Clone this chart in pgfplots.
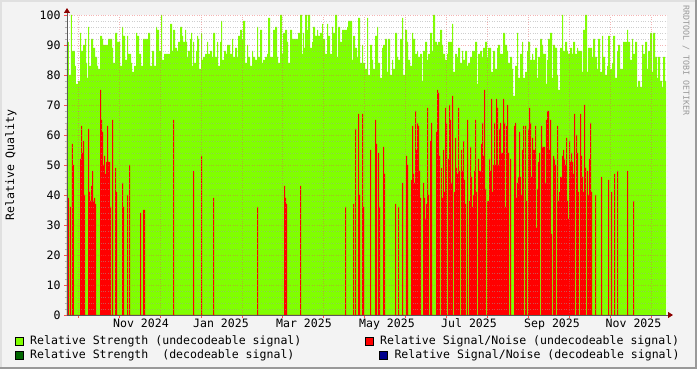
\documentclass[border=0pt]{standalone}
\usepackage{fontspec}
\setmainfont{DejaVu Sans Mono}
\usepackage{pgfplots}
\pgfplotsset{compat=1.18}
\usetikzlibrary{arrows.meta}
\definecolor{bgc}{RGB}{243,243,243}
\definecolor{limeg}{RGB}{128,255,0}
\definecolor{redc}{RGB}{255,0,0}
\definecolor{dkg}{RGB}{0,102,0}
\definecolor{navyc}{RGB}{0,0,139}
\definecolor{mgrid}{RGB}{230,90,90}
\definecolor{ngrid}{RGB}{160,160,160}
\newcommand{\lf}{\fontsize{11.55}{13}\selectfont}
\begin{document}
\begin{tikzpicture}[x=1pt,y=1pt]
\fill[bgc] (0,0) rectangle (697,369);
\useasboundingbox (0,0) rectangle (697,369);
\fill[white] (67,54) rectangle (667,354);
\fill[black!40] (0,0) rectangle (697,2);
\fill[black!40] (695,0) rectangle (697,369);
\fill[black!12] (0,367) rectangle (695,369);
\fill[black!12] (0,2) rectangle (2,369);
\begin{axis}[
  at={(67pt,54pt)}, anchor=south west,
  scale only axis, width=600pt, height=300pt,
  xmin=67, xmax=667, ymin=0, ymax=100,
  axis lines=left,
  axis on top,
  x axis line style={draw=black!65, line width=0.8pt, shorten >=-6pt, -{Triangle[length=5pt,width=6pt,color=red!55!black]}},
  y axis line style={draw=black!65, line width=0.8pt, shorten >=-7pt, -{Triangle[length=5pt,width=6pt,color=red!55!black]}},
  xtick={78.3,119.5,160.5,201,242,282,323,364,405,446,487.5,528.5,569.5,610.5,651.5},
  xticklabels={},
  minor x tick num=3,
  extra x ticks={141,221,304,387,469,552,633.5},
  extra x tick labels={Nov 2024,Jan 2025,Mar 2025,May 2025,Jul 2025,Sep 2025,Nov 2025},
  extra x tick style={grid=none, minor x tick num=0, major tick length=0pt},
  ytick={0,10,...,100}, minor y tick num=4,
  grid=both,
  major grid style={draw=mgrid, draw opacity=0.45, dotted, line width=0.5pt},
  minor grid style={draw=ngrid, draw opacity=0.5, dotted, line width=0.45pt},
  tick align=outside,
  major tick length=3pt, minor tick length=2pt,
  major tick style={draw=red!70, line width=0.6pt},
  minor tick style={draw=gray!60, line width=0.5pt},
  tick label style={font=\lf, /pgf/number format/assume math mode=true},
  ylabel={Relative Quality},
  ylabel style={font=\lf, at={(axis description cs:-0.0933,0.5)}, anchor=center},
]
\addplot[const plot mark left, fill=limeg, draw=none] coordinates {
(67,91)(69,80)(71,100)(72,88)(75,83)(76,77)(78,78)(80,94)(81,88)(83,90)(85,92)(86,84)(87,79)(88,96)(89,83)(91,92)(93,89)(95,86)(97,83)(98,82)(100,93)(102,92)(103,90)(108,92)(112,89)(113,84)(115,94)(117,91)(120,83)(122,96)(123,93)(125,85)(127,93)(128,87)(131,84)(132,81)(134,83)(136,94)(137,93)(139,87)(141,83)(143,92)(148,94)(150,83)(152,88)(154,83)(156,96)(157,95)(159,88)(161,100)(162,85)(164,87)(170,97)(172,88)(173,95)(175,89)(177,88)(178,91)
(180,96)(182,93)(183,91)(185,95)(186,91)(187,86)(188,88)(190,92)(191,94)(192,83)(193,91)(194,84)(196,88)(197,93)(198,92)(199,82)(201,94)(202,85)(203,86)(205,87)(207,91)(208,87)(210,88)(212,86)(213,94)(215,86)(217,91)(218,83)(220,91)(221,98)(222,85)(224,88)(226,87)(227,90)(230,87)(232,92)(233,86)(235,89)(237,86)(238,93)(240,95)(242,92)(243,98)(245,84)(247,90)(248,86)(250,83)(252,88)(253,86)(255,85)(257,96)(258,86)(260,95)(262,84)(263,85)(265,86)(267,87)(268,99)(270,86)(273,95)(275,96)(277,86)(278,84)(280,100)(282,87)(283,94)(285,95)(287,91)(288,84)(290,95)(292,92)(298,94)
(300,100)(302,87)(303,94)(304,89)(305,100)(307,95)(308,100)(310,89)(312,91)(313,96)(315,93)(317,95)(318,93)(320,94)(322,97)(323,92)(325,87)(327,97)(328,93)(330,87)(332,96)(333,94)(335,100)(337,86)(338,96)(340,91)(342,95)(347,96)(348,98)(350,98)(352,85)(353,93)(355,89)(357,86)(358,99)(360,84)(362,90)(363,84)(365,82)(367,99)(368,80)(370,90)(372,85)(373,82)(375,93)(377,96)(378,84)(380,79)(382,89)(383,90)(385,92)(387,81)(388,92)(390,80)(392,85)(393,82)(395,94)(397,86)(398,85)(400,92)(402,99)(403,80)(405,95)(407,91)(408,85)(410,83)(412,94)(413,92)(415,87)(417,88)(418,86)
(420,87)(422,78)(423,88)(425,91)(427,85)(428,87)(430,94)(432,88)(433,100)(435,91)(437,90)(438,91)(440,95)(442,90)(443,87)(445,85)(447,87)(448,91)(450,91)(452,97)(453,81)(455,87)(457,86)(458,89)(460,84)(462,88)(463,85)(465,88)(467,83)(468,84)(470,86)(472,88)(475,91)(477,77)(478,87)(480,88)(482,86)(483,89)(485,91)(487,86)(488,89)(491,81)(493,88)(495,82)(497,89)(498,90)(500,87)(503,94)(505,90)(507,88)(508,84)(510,86)(512,82)(513,73)(515,83)(517,94)(518,79)(520,87)(522,91)(523,79)(525,81)(527,88)(528,91)(530,85)(532,87)(533,85)(535,89)(537,79)(538,86)(540,92)(542,90)(543,87)
(545,87)(546,77)(547,85)(548,92)(550,94)(552,79)(553,90)(555,89)(557,80)(558,75)(560,89)(562,100)(563,88)(565,91)(567,88)(568,87)(570,89)(572,87)(573,91)(575,87)(577,89)(578,88)(582,81)(583,95)(585,100)(587,81)(588,89)(592,86)(593,92)(595,86)(597,82)(598,92)(600,81)(602,93)(603,86)(605,80)(607,83)(608,93)(610,82)(612,84)(613,93)(615,79)(617,88)(618,90)(620,82)(623,91)(627,95)(628,91)(630,85)(632,92)(633,87)(635,91)(637,76)(638,78)(640,76)(642,90)(643,87)(645,91)(647,82)(648,88)(650,94)(652,81)(653,94)(655,86)(657,79)(658,86)(660,78)(662,76)(663,86)(665,78)(666,78)
} \closedcycle;
\addplot[const plot mark left, fill=redc, draw=none] coordinates {
(67,64)(68,39)(69,0)(70,36)(71,0)(72,57)(73,50)(74,0)(80,52)(81,63)(82,54)(83,58)(84,40)(85,0)(88,62)(89,41)(90,38)(91,43)(92,48)(93,38)(94,39)(95,37)(96,0)(100,75)(101,65)(102,61)(103,50)(104,53)(105,47)(106,51)(107,63)(108,51)(109,51)(110,36)(111,0)(112,65)(113,0)(115,49)(116,41)(117,0)(122,44)(123,36)(124,0)(127,40)(128,0)(129,50)(130,0)(140,34)(141,0)(143,35)(145,0)(173,65)(174,0)(193,48)(194,0)(201,53)(202,0)(213,39)(214,0)(257,36)(258,0)(284,43)(285,39)(286,37)(287,0)(300,43)(301,0)(345,36)(346,0)(353,37)(354,0)(355,62)(356,0)(358,67)(359,40)(360,0)(362,67)(363,36)(364,0)(370,55)(371,0)(375,65)(376,57)(377,0)(378,54)(379,36)(380,0)(383,56)(384,47)(385,0)(395,37)(396,0)(398,36)(399,0)(402,44)(403,0)(406,53)(407,50)(408,0)(411,45)(412,63)(413,47)(414,44)(415,68)(416,55)(417,64)(418,63)(419,48)(420,39)(421,0)(423,44)(424,39)(425,32)(426,37)(427,69)(428,40)(429,0)(430,58)(431,64)(432,0)(436,61)(437,75)(438,74)(439,53)(440,0)(441,49)(442,39)(443,55)(444,41)(445,69)(446,64)(447,0)(448,52)(449,70)(450,65)(451,44)(452,73)(453,0)(454,41)(455,59)(456,49)(457,47)(458,69)(459,48)(460,0)(461,55)(462,48)(463,58)(464,45)(465,37)(466,0)(467,65)(468,0)(469,38)(470,56)(471,46)(472,36)(473,40)(474,48)(475,65)(476,41)(477,0)(478,52)(479,48)(480,48)(481,57)(482,64)(483,53)(484,75)(485,42)(486,0)(487,38)(488,38)(489,52)(490,48)(491,72)(492,41)(493,50)(494,64)(495,50)(496,72)(497,69)(498,50)(499,62)(500,64)(501,54)(502,54)(503,72)(504,64)(505,36)(506,63)(507,70)(508,54)(509,0)(510,52)(511,0)(514,63)(515,64)(516,39)(517,44)(518,46)(519,61)(520,46)(521,40)(522,55)(523,63)(524,0)(525,63)(526,38)(527,0)(528,62)(529,69)(530,64)(531,46)(532,59)(533,55)(534,55)(535,63)(536,29)(537,42)(538,51)(539,54)(540,0)(541,63)(542,56)(543,56)(544,56)(545,44)(546,65)(547,68)(548,68)(549,55)(550,65)(551,27)(552,0)(553,53)(554,52)(555,50)(556,0)(557,63)(558,38)(559,41)(560,46)(561,46)(562,53)(563,55)(564,52)(565,50)(566,59)(567,38)(568,32)(569,58)(570,51)(571,54)(572,51)(573,47)(574,67)(575,0)(576,60)(577,54)(578,41)(579,0)(580,67)(581,53)(582,46)(583,41)(584,70)(585,49)(586,0)(587,48)(588,40)(589,52)(590,64)(591,41)(592,0)(595,40)(596,0)(601,46)(602,0)(608,45)(609,0)(611,41)(612,0)(614,47)(615,0)(617,48)(618,0)(627,48)(628,0)(633,38)(634,0)
} \closedcycle;
\end{axis}
% legend
\filldraw[fill=limeg, draw=black, line width=0.8pt] (15,24) rectangle (23,32);
\node[anchor=base west, inner sep=0pt, font=\lf] at (30,24) {Relative Strength (undecodeable signal)};
\filldraw[fill=dkg, draw=black, line width=0.8pt] (15,10) rectangle (23,18);
\node[anchor=base west, inner sep=0pt, font=\lf] at (30,10) {Relative Strength\ \ (decodeable signal)};
\filldraw[fill=redc, draw=black, line width=0.8pt] (365,24) rectangle (373,32);
\node[anchor=base west, inner sep=0pt, font=\lf] at (380,24) {Relative Signal/Noise (undecodeable signal)};
\filldraw[fill=navyc, draw=black, line width=0.8pt] (379.3,10) rectangle (387.3,18);
\node[anchor=base west, inner sep=0pt, font=\lf] at (394.3,10) {Relative Signal/Noise (decodeable signal)};
\node[anchor=west, rotate=-90, inner sep=0pt, text=black!40, font=\fontsize{8.3}{9}\selectfont] at (686,364) {RRDTOOL / TOBI OETIKER};
\end{tikzpicture}
\end{document}
